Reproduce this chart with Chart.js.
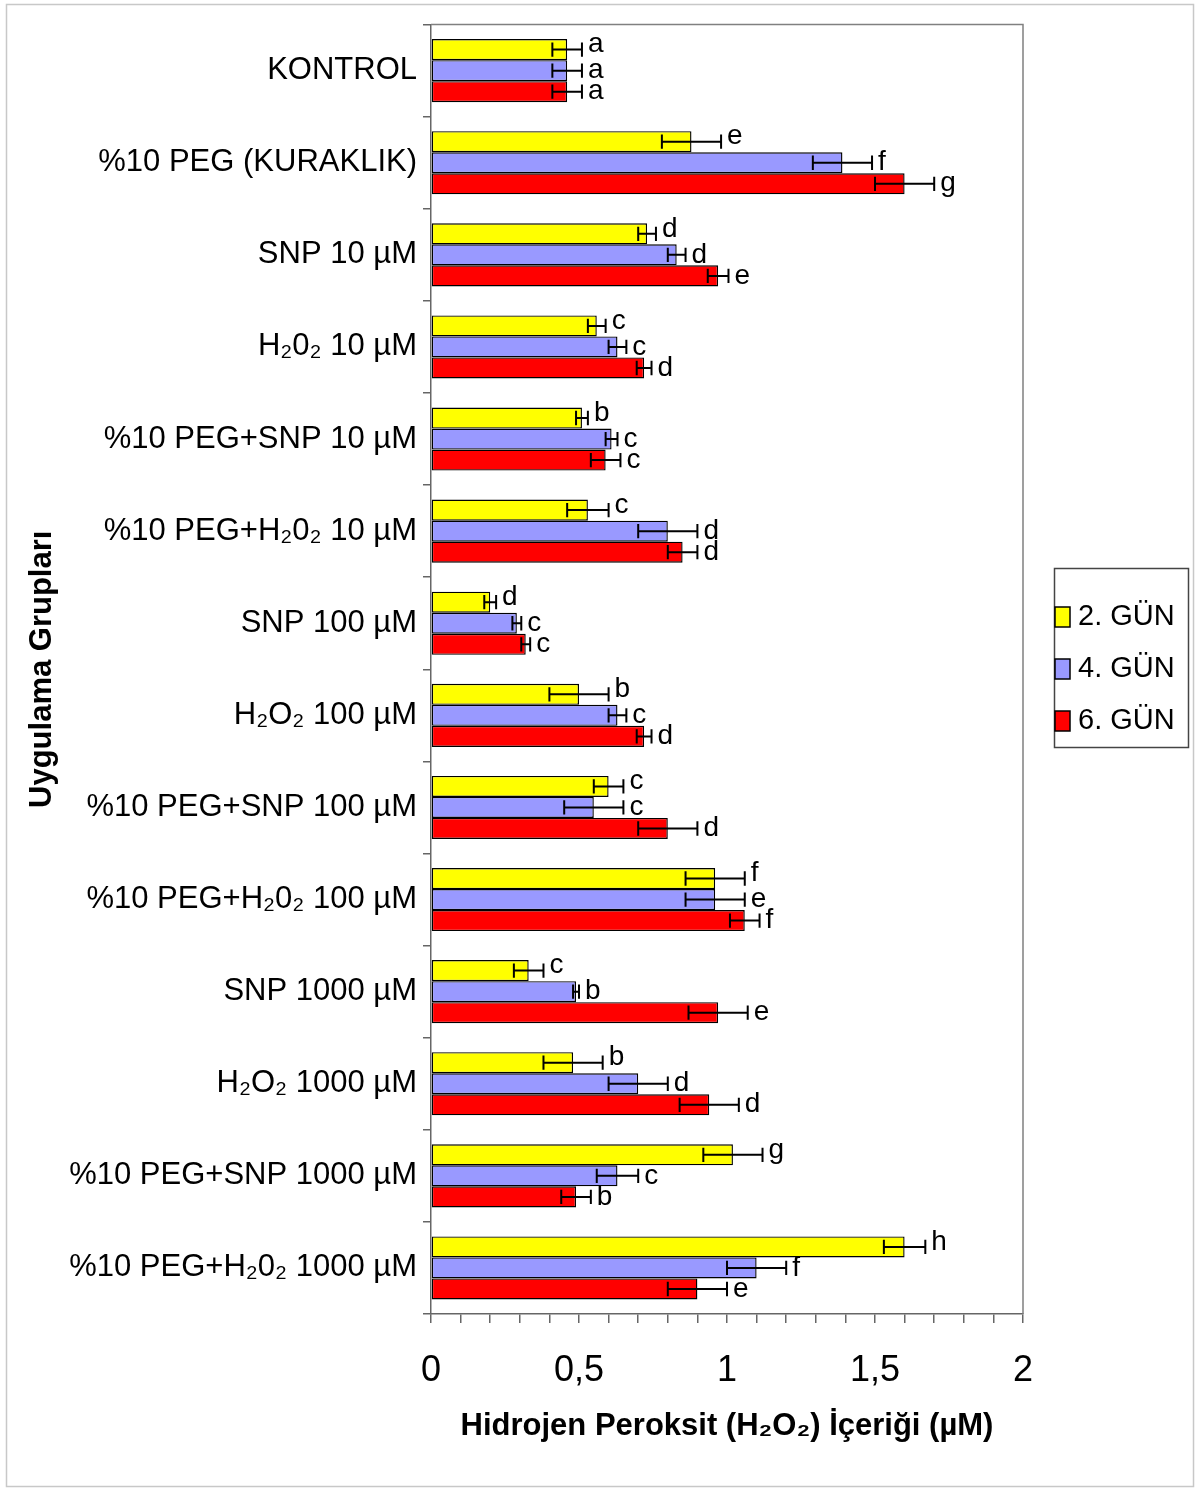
<!DOCTYPE html>
<html>
<head>
<meta charset="utf-8">
<title>Hidrojen Peroksit İçeriği</title>
<script src="https://cdn.jsdelivr.net/npm/chart.js@4.4.1/dist/chart.umd.min.js"></script>
<style>
  html, body { margin: 0; padding: 0; background: #fff; }
  #wrap { width: 1198px; height: 1490px; }
  canvas { display: block; background: #fff; }
</style>
</head>
<body>
<div id="wrap"><canvas id="chart" width="1198" height="1490"></canvas></div>
<script>
// Treatment groups (top to bottom)
const categories = [
  'KONTROL',
  '%10 PEG (KURAKLIK)',
  'SNP 10 µM',
  'H₂0₂ 10 µM',
  '%10 PEG+SNP 10 µM',
  '%10 PEG+H₂0₂ 10 µM',
  'SNP 100 µM',
  'H₂O₂ 100 µM',
  '%10 PEG+SNP 100 µM',
  '%10 PEG+H₂0₂ 100 µM',
  'SNP 1000 µM',
  'H₂O₂ 1000 µM',
  '%10 PEG+SNP 1000 µM',
  '%10 PEG+H₂0₂ 1000 µM'
];

const seriesNames = ['2. GÜN', '4. GÜN', '6. GÜN'];

// Mean H2O2 content (µM)
const day2 = [0.46, 0.88, 0.73, 0.56, 0.51, 0.53, 0.20, 0.50, 0.60, 0.96, 0.33, 0.48, 1.02, 1.60];
const day4 = [0.46, 1.39, 0.83, 0.63, 0.61, 0.80, 0.29, 0.63, 0.55, 0.96, 0.49, 0.70, 0.63, 1.10];
const day6 = [0.46, 1.60, 0.97, 0.72, 0.59, 0.85, 0.32, 0.72, 0.80, 1.06, 0.97, 0.94, 0.49, 0.90];

// Standard errors
const day2Err = [0.05, 0.10, 0.03, 0.03, 0.02, 0.07, 0.02, 0.10, 0.05, 0.10, 0.05, 0.10, 0.10, 0.07];
const day4Err = [0.05, 0.10, 0.03, 0.03, 0.02, 0.10, 0.015, 0.03, 0.10, 0.10, 0.01, 0.10, 0.07, 0.10];
const day6Err = [0.05, 0.10, 0.035, 0.025, 0.05, 0.05, 0.015, 0.025, 0.10, 0.05, 0.10, 0.10, 0.05, 0.10];

// Significance letters
const day2Letters = ['a', 'e', 'd', 'c', 'b', 'c', 'd', 'b', 'c', 'f', 'c', 'b', 'g', 'h'];
const day4Letters = ['a', 'f', 'd', 'c', 'c', 'd', 'c', 'c', 'c', 'e', 'b', 'd', 'c', 'f'];
const day6Letters = ['a', 'g', 'e', 'd', 'c', 'd', 'c', 'd', 'd', 'f', 'e', 'd', 'b', 'e'];

// Axis range and major tick labels
const xMin = 0;
const xMax = 2;
const xMinorStep = 0.1;
const xTickLabels = ['0', '0,5', '1', '1,5', '2'];

const FONT = "'Liberation Sans', Arial, Helvetica, sans-serif";
Chart.defaults.font.family = FONT;
Chart.defaults.color = '#000';

const errors = [day2Err, day4Err, day6Err];
const letters = [day2Letters, day4Letters, day6Letters];
const colors = ['#ffff00', '#9999ff', '#ff0000'];

// Error bars and significance letters
const errorBarPlugin = {
  id: 'errorBars',
  afterDatasetsDraw(chart) {
    const ctx = chart.ctx;
    const xs = chart.scales.x;
    ctx.save();
    chart.data.datasets.forEach((ds, di) => {
      const meta = chart.getDatasetMeta(di);
      meta.data.forEach((bar, i) => {
        const v = ds.data[i];
        const e = errors[di][i];
        const x1 = xs.getPixelForValue(v - e);
        const x2 = xs.getPixelForValue(v + e);
        const y = bar.y;
        const cap = bar.height * 0.34;
        ctx.strokeStyle = '#000';
        ctx.lineWidth = 2;
        ctx.beginPath();
        ctx.moveTo(x1, y); ctx.lineTo(x2, y);
        ctx.moveTo(x1, y - cap); ctx.lineTo(x1, y + cap);
        ctx.moveTo(x2, y - cap); ctx.lineTo(x2, y + cap);
        ctx.stroke();
        ctx.fillStyle = '#000';
        ctx.font = '28px ' + FONT;
        ctx.textAlign = 'left';
        ctx.textBaseline = 'middle';
        const lift = di === 0 ? -5 : 0;
        ctx.fillText(letters[di][i], x2 + 6, y + lift);
      });
    });
    ctx.restore();
  }
};

// Plot frame, outer border and legend box
const framePlugin = {
  id: 'frame',
  afterDraw(chart) {
    const ctx = chart.ctx;
    const a = chart.chartArea;
    ctx.save();
    // top and right edges of plot area
    ctx.strokeStyle = '#808080';
    ctx.lineWidth = 1.5;
    ctx.beginPath();
    ctx.moveTo(a.left, a.top);
    ctx.lineTo(a.right, a.top);
    ctx.lineTo(a.right, a.bottom);
    ctx.stroke();
    // outer border
    ctx.strokeStyle = '#c8c8c8';
    ctx.lineWidth = 1.5;
    ctx.strokeRect(6.5, 4.5, 1187, 1482);
    // legend
    const lx = 1054, ly = 568, lw = 134, lh = 179;
    ctx.strokeStyle = '#444';
    ctx.lineWidth = 1.5;
    ctx.strokeRect(lx + 0.5, ly + 0.5, lw, lh);
    chart.data.datasets.forEach((ds, i) => {
      const cy = 617 + i * 52;
      ctx.fillStyle = ds.backgroundColor;
      ctx.fillRect(lx + 1, cy - 10, 15, 20);
      ctx.strokeStyle = '#000';
      ctx.lineWidth = 1.5;
      ctx.strokeRect(lx + 1, cy - 10, 15, 20);
      ctx.fillStyle = '#000';
      ctx.font = '29px ' + FONT;
      ctx.textAlign = 'left';
      ctx.textBaseline = 'middle';
      ctx.fillText(ds.label, lx + 24, cy);
    });
    ctx.restore();
  }
};

const mkSet = (label, data, color) => ({
  label,
  data,
  backgroundColor: color,
  borderColor: '#000',
  borderWidth: 1.4,
  borderSkipped: false,
  categoryPercentage: 0.685,
  barPercentage: 1.0
});

new Chart(document.getElementById('chart'), {
  type: 'bar',
  data: {
    labels: categories,
    datasets: [
      mkSet(seriesNames[0], day2, colors[0]),
      mkSet(seriesNames[1], day4, colors[1]),
      mkSet(seriesNames[2], day6, colors[2])
    ]
  },
  options: {
    indexAxis: 'y',
    responsive: false,
    animation: false,
    layout: { padding: { left: 24, right: 175, top: 22, bottom: 40 } },
    plugins: {
      legend: { display: false },
      tooltip: { enabled: false }
    },
    scales: {
      x: {
        type: 'linear',
        min: xMin,
        max: xMax,
        afterFit(scale) { scale.height = 136; },
        ticks: {
          stepSize: xMinorStep,
          autoSkip: false,
          maxRotation: 0,
          minRotation: 0,
          padding: 26,
          font: { size: 36 },
          color: '#000',
          callback(value) {
            const k = value / 0.5;
            if (Math.abs(k - Math.round(k)) < 1e-6) {
              return xTickLabels[Math.round(k)];
            }
            return '';
          }
        },
        grid: {
          drawOnChartArea: false,
          drawTicks: true,
          tickLength: 9,
          color: '#666',
          lineWidth: 1.5
        },
        border: { display: true, color: '#666', width: 1.5 },
        title: {
          display: true,
          text: 'Hidrojen Peroksit (H₂O₂) İçeriği (µM)',
          font: { size: 31, weight: 'bold' },
          color: '#000',
          padding: { top: 0, bottom: 5 }
        }
      },
      y: {
        type: 'category',
        afterFit(scale) { scale.width = 407; },
        ticks: {
          autoSkip: false,
          padding: 6,
          font: { size: 31 },
          color: '#000'
        },
        grid: {
          offset: true,
          drawOnChartArea: false,
          drawTicks: true,
          tickLength: 8,
          color: '#666',
          lineWidth: 1.5
        },
        border: { display: true, color: '#666', width: 1.5 },
        title: {
          display: true,
          text: 'Uygulama Grupları',
          font: { size: 31, weight: 'bold' },
          color: '#000',
          padding: { top: 0, bottom: 0 }
        }
      }
    }
  },
  plugins: [errorBarPlugin, framePlugin]
});
</script>
</body>
</html>
